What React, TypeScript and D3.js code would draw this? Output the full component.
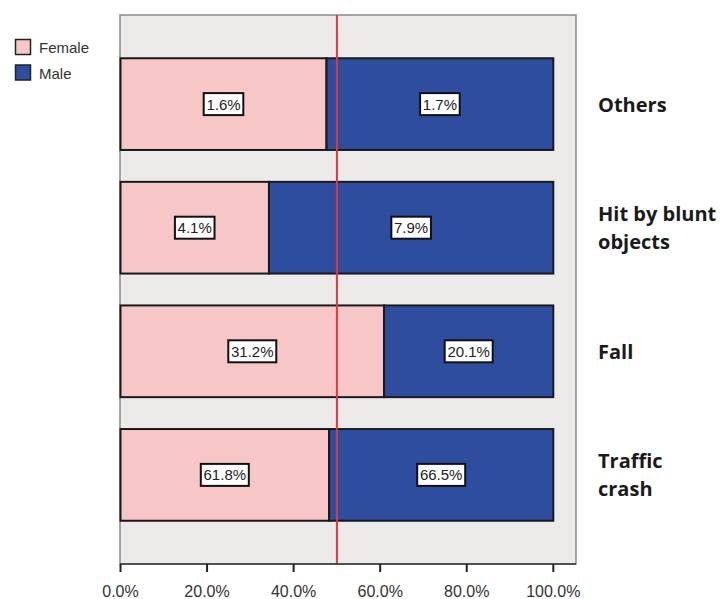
import React from "react";
import * as d3 from "d3";

const categories = ["Others", "Hit by blunt objects", "Fall", "Traffic crash"];
const categoryLines = [["Others"], ["Hit by blunt", "objects"], ["Fall"], ["Traffic", "crash"]];
// share of bar occupied by Female segment (%)
const femaleShare = [47.6, 34.3, 60.9, 48.2];
const femaleLabels = ["1.6%", "4.1%", "31.2%", "61.8%"];
const maleLabels = ["1.7%", "7.9%", "20.1%", "66.5%"];
const xTicks = [0, 20, 40, 60, 80, 100];
const seriesNames = ["Female", "Male"];
const seriesColors = ["#F7C6C7", "#2F4D9E"];
const refLine = 50;

export default function App() {
  const W = 722, H = 599;
  const plot = { left: 120, right: 576, top: 15, bottom: 564 };
  const x = d3.scaleLinear().domain([0, 100]).range([120.5, 553.3]);
  const y = d3
    .scaleBand<string>()
    .domain(categories)
    .range([plot.top, plot.bottom])
    .paddingInner(0.258)
    .paddingOuter(0.35);
  const bw = y.bandwidth();
  const font = "'Liberation Sans', Arial, sans-serif";
  const labelBox = (cx: number, cy: number, t: string, key: string) => {
    const w = t.length * 8.4 + 6;
    return (
      <g key={key}>
        <rect x={cx - w / 2} y={cy - 11} width={w} height={22} fill="#fff" stroke="#111" strokeWidth={2} />
        <text x={cx} y={cy + 5.5} textAnchor="middle" fontFamily={font} fontSize={15} fill="#222">
          {t}
        </text>
      </g>
    );
  };
  return (
    <svg width={W} height={H} style={{ position: "absolute", left: 0, top: 0 }}>
      <rect width={W} height={H} fill="#fff" />
      <rect
        x={plot.left}
        y={plot.top}
        width={plot.right - plot.left}
        height={plot.bottom - plot.top}
        fill="#EDEBEA"
        stroke="#8a8a8a"
        strokeWidth={1.5}
      />
      {categories.map((c, i) => {
        const y0 = y(c)!;
        const xs = x(0), xm = x(femaleShare[i]), xe = x(100);
        return (
          <g key={c}>
            <rect x={xs} y={y0} width={xm - xs} height={bw} fill={seriesColors[0]} stroke="#1a1a1a" strokeWidth={2} />
            <rect x={xm} y={y0} width={xe - xm} height={bw} fill={seriesColors[1]} stroke="#1a1a1a" strokeWidth={2} />
          </g>
        );
      })}
      <line x1={x(refLine)} x2={x(refLine)} y1={plot.top} y2={plot.bottom} stroke="#E0383C" strokeWidth={2} />
      {categories.map((c, i) => {
        const cy = y(c)! + bw / 2;
        return (
          <g key={c + "l"}>
            {labelBox((x(0) + x(femaleShare[i])) / 2, cy, femaleLabels[i], "f")}
            {labelBox((x(femaleShare[i]) + x(100)) / 2, cy, maleLabels[i], "m")}
          </g>
        );
      })}
      <line x1={plot.left} x2={plot.right} y1={plot.bottom} y2={plot.bottom} stroke="#333" strokeWidth={1.5} />
      {xTicks.map((t) => (
        <g key={t}>
          <line x1={x(t)} x2={x(t)} y1={plot.bottom} y2={plot.bottom + 8} stroke="#222" strokeWidth={2} />
          <text x={x(t)} y={597} textAnchor="middle" fontFamily={font} fontSize={16} fill="#333">
            {d3.format(".1f")(t) + "%"}
          </text>
        </g>
      ))}
      {categories.map((c, i) => {
        const lines = categoryLines[i];
        const cy = y(c)! + bw / 2;
        const lh = 28;
        const startBase = cy + 7.5 - ((lines.length - 1) * lh) / 2;
        return (
          <text key={c + "c"} fontFamily="'Open Sans', sans-serif" fontWeight="bold" fontSize={20} fill="#1a1a1a">
            {lines.map((ln, j) => (
              <tspan key={j} x={598} y={startBase + j * lh}>
                {ln}
              </tspan>
            ))}
          </text>
        );
      })}
      {seriesNames.map((s, i) => (
        <g key={s}>
          <rect x={15.5} y={39.5 + i * 25.5} width={15} height={15} fill={seriesColors[i]} stroke="#222" strokeWidth={1.5} />
          <text x={39} y={53 + i * 25.5} fontFamily={font} fontSize={15} fill="#333">
            {s}
          </text>
        </g>
      ))}
    </svg>
  );
}
